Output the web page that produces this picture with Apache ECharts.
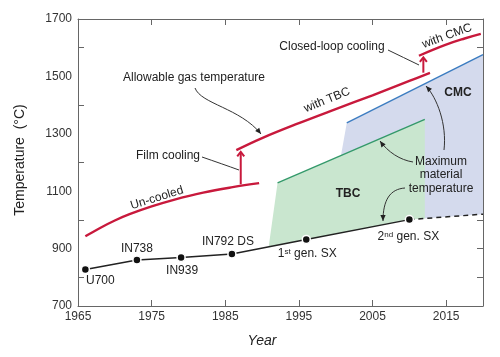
<!DOCTYPE html>
<html><head><meta charset="utf-8">
<script src="https://cdn.jsdelivr.net/npm/echarts@6/dist/echarts.min.js"></script>
<style>html,body{margin:0;padding:0;background:#fff}#c{width:500px;height:357px}</style>
</head><body><div id="c"></div>
<script>
// ---- axis ticks / labels ----
const xTickLabels = [1965, 1975, 1985, 1995, 2005, 2015];
const xTickMarks = [1975, 1985, 1995, 2005, 2015];
const yTickLabels = [700, 900, 1100, 1300, 1500, 1700];
const yTickMarksLeft = [800, 1000, 1200, 1400, 1600];

// ---- allowable gas temperature curves ----
const uncooledYear = [1966, 1968, 1970, 1972, 1975, 1978, 1982, 1986, 1989.6];
const uncooledTemp = [943, 972, 998, 1020, 1047, 1070, 1095, 1114, 1128];
const tbcGasYear = [1986.5, 1990, 1995, 2000, 2005, 2010, 2012.8];
const tbcGasTemp = [1243, 1285, 1337, 1386, 1434, 1484, 1512];
const cmcGasYear = [2011.3, 2014.8, 2017.5, 2019.7];
const cmcGasTemp = [1572, 1609, 1632, 1648];

// ---- cooling step arrows ----
const stepYear = [1987.1, 2011.9];
const stepFrom = [1124, 1513];
const stepTo = [1237, 1566];

// ---- material temperature ----
const alloyYear = [1966, 1973, 1979, 1985.9, 1996, 2010];
const alloyTemp = [827, 860, 869, 881, 932, 1001];
const alloyName = ['U700', 'IN738', 'IN939', 'IN792 DS', '1st gen. SX', '2nd gen. SX'];
const futureYear = [2010, 2020];
const futureTemp = [1001, 1020];

// ---- coating regions ----
const tbcRegionYear = [1990.9, 1992.1, 2012.1, 2012.1, 2010, 1996];
const tbcRegionTemp = [907, 1129, 1350, 1005, 1001, 932];
const tbcTopYear = [1992.1, 2012.1];
const tbcTopTemp = [1129, 1350];
const cmcRegionYear = [2000.2, 2001.5, 2020, 2020, 2010, 2000.2];
const cmcRegionTemp = [1150, 1338, 1576, 1020, 1001, 952];
const cmcTopYear = [2001.5, 2020];
const cmcTopTemp = [1338, 1576];

// label offsets (pixels) for alloy names
const alloyLabelOffset = [[15, 11], [0, -11], [1, 13], [-4, -12], [1, 14], [-1, 17]];

const FONT = 'Liberation Sans, Arial, sans-serif';
const RED = '#c8193c';
const zip = (a, b) => a.map((v, i) => [v, b[i]]);

function polygonSeries(xs, ys, fill, z) {
  return {
    type: 'custom', z: z, silent: true,
    data: [[xs[0], ys[0]]],
    renderItem: function (params, api) {
      return {
        type: 'polygon',
        shape: { points: xs.map((x, i) => api.coord([x, ys[i]])) },
        style: { fill: fill, stroke: null }
      };
    }
  };
}
function lineSeries(xs, ys, color, width, smooth, z, type) {
  return {
    type: 'line', data: zip(xs, ys), showSymbol: false, smooth: smooth, z: z, silent: true,
    lineStyle: { color: color, width: width, type: type || 'solid' }
  };
}

function arrowHead(x2, y2, fx, fy, color) {
  const a = Math.atan2(y2 - fy, x2 - fx), L = 6, W = 2.6;
  const bx = x2 - L * Math.cos(a), by = y2 - L * Math.sin(a);
  return {
    type: 'polygon', z: 100,
    shape: { points: [[x2, y2], [bx - W * Math.sin(a), by + W * Math.cos(a)], [bx + W * Math.sin(a), by - W * Math.cos(a)]] },
    style: { fill: color }
  };
}
function leader(p, arrow) {
  const els = [{
    type: 'bezierCurve', z: 100,
    shape: { x1: p[0], y1: p[1], cpx1: p[2], cpy1: p[3], cpx2: p[4], cpy2: p[5], x2: p[6], y2: p[7] },
    style: { stroke: '#333', lineWidth: 1, fill: null }
  }];
  if (arrow) els.push(arrowHead(p[6], p[7], p[4], p[5], '#222'));
  return els;
}
function txt(s, x, y, opt) {
  opt = opt || {};
  return {
    type: 'text', x: x, y: y, rotation: (opt.rot || 0) * Math.PI / 180, z: 100,
    style: {
      text: s, fill: opt.color || '#222', font: (opt.style || '') + ' ' + (opt.weight || 'normal') + ' ' + (opt.size || 12) + 'px ' + FONT,
      align: 'center', verticalAlign: 'middle', lineHeight: opt.lh || undefined
    }
  };
}

const chart = echarts.init(document.getElementById('c'), null, { renderer: 'canvas' });

const graphics = [].concat(
  leader([195, 88, 201, 104, 240, 108, 261, 134], true),
  leader([202, 157, 215, 161.5, 228, 166, 239, 170], false),
  leader([388, 50, 398, 55, 409, 60, 419, 65], false),
  leader([444, 150, 447, 124, 437, 98, 426, 86], true),
  leader([413, 162, 400, 160, 388, 152, 380, 141], true),
  leader([405, 188, 390, 189, 383, 200, 383, 221], true),
  [
    txt('Allowable gas temperature', 194, 78),
    txt('Film cooling', 168, 156),
    txt('Closed-loop cooling', 332, 47),
    txt('with CMC', 447, 36, { rot: 20 }),
    txt('with TBC', 327, 100, { rot: 22 }),
    txt('Un-cooled', 157, 198, { rot: 17 }),
    txt('CMC', 458, 93, { weight: 'bold' }),
    txt('TBC', 348, 194, { weight: 'bold' }),
    txt('Maximum\nmaterial\ntemperature', 441, 175, { lh: 13.5 }),
    txt('Year', 262, 341, { size: 14, style: 'italic' }),
    txt('Temperature  (\u00B0C)', 20, 160, { size: 14, rot: 90 })
  ]
);

const axisLineStyle = { color: '#666', width: 1 };
const plain = v => String(v);
const option = {
  animation: false,
  backgroundColor: '#fff',
  grid: { left: 78, right: 17, top: 19, bottom: 51, containLabel: false },
  xAxis: [{
    type: 'value', min: 1965, max: 2020, position: 'bottom',
    axisLine: { show: true, onZero: false, lineStyle: axisLineStyle },
    axisTick: { show: true, inside: true, length: 6, customValues: xTickMarks, lineStyle: axisLineStyle },
    axisLabel: { show: true, customValues: xTickLabels, formatter: plain, color: '#333', fontSize: 12, fontFamily: FONT, margin: 5 },
    splitLine: { show: false }
  }, {
    type: 'value', min: 1965, max: 2020, position: 'top',
    axisLine: { show: true, onZero: false, lineStyle: axisLineStyle },
    axisTick: { show: true, inside: true, length: 6, customValues: xTickMarks, lineStyle: axisLineStyle },
    axisLabel: { show: false }, splitLine: { show: false }
  }],
  yAxis: [{
    type: 'value', min: 700, max: 1700, interval: 100, position: 'left',
    axisLine: { show: true, onZero: false, lineStyle: axisLineStyle },
    axisTick: { show: true, inside: true, length: 6, customValues: yTickMarksLeft, lineStyle: axisLineStyle },
    axisLabel: { show: true, customValues: yTickLabels, formatter: plain, color: '#333', fontSize: 12, fontFamily: FONT, margin: 6 },
    splitLine: { show: false }
  }, {
    type: 'value', min: 700, max: 1700, interval: 100, position: 'right',
    axisLine: { show: true, onZero: false, lineStyle: axisLineStyle },
    axisTick: { show: true, inside: true, length: 6, lineStyle: axisLineStyle },
    axisLabel: { show: false }, splitLine: { show: false }
  }],
  graphic: graphics,
  series: [
    polygonSeries(cmcRegionYear, cmcRegionTemp, '#d4daed', 1),
    polygonSeries(tbcRegionYear, tbcRegionTemp, '#c9e6cf', 2),
    lineSeries(cmcTopYear, cmcTopTemp, '#3b7cc0', 1.4, false, 3),
    lineSeries(tbcTopYear, tbcTopTemp, '#33996a', 1.4, false, 3),
    lineSeries(uncooledYear, uncooledTemp, RED, 2.4, 0.4, 4),
    lineSeries(tbcGasYear, tbcGasTemp, RED, 2.4, 0.4, 4),
    lineSeries(cmcGasYear, cmcGasTemp, RED, 2.4, 0.4, 4),
    {
      type: 'custom', z: 5, silent: true,
      data: stepYear.map((y, i) => [y, stepFrom[i], stepTo[i]]),
      renderItem: function (params, api) {
        const p0 = api.coord([api.value(0), api.value(1)]);
        const p1 = api.coord([api.value(0), api.value(2)]);
        return {
          type: 'group', children: [
            { type: 'line', shape: { x1: p0[0], y1: p0[1], x2: p1[0], y2: p1[1] + 1 }, style: { stroke: RED, lineWidth: 2 } },
            { type: 'polyline', shape: { points: [[p1[0] - 3.5, p1[1] + 4.5], [p1[0], p1[1]], [p1[0] + 3.5, p1[1] + 4.5]] }, style: { stroke: RED, lineWidth: 2, fill: null } }
          ]
        };
      }
    },
    lineSeries(futureYear, futureTemp, '#222', 1.5, false, 6, [5, 4]),
    {
      type: 'line', z: 7, silent: true,
      data: alloyYear.map((y, i) => ({
        value: [y, alloyTemp[i]],
        label: { offset: alloyLabelOffset[i] }
      })),
      symbol: 'circle', symbolSize: 8, showSymbol: true,
      lineStyle: { color: '#222', width: 1.5 },
      itemStyle: { color: '#111', borderColor: '#fff', borderWidth: 1.5 },
      label: {
        show: true, position: 'inside', color: '#222', fontSize: 12, fontFamily: FONT,
        align: 'center', verticalAlign: 'middle',
        formatter: p => alloyName[p.dataIndex].replace(/^(\d)(st|nd|rd|th)/, '$1{sup|$2}'),
        rich: { sup: { fontSize: 8, verticalAlign: 'top', color: '#222', fontFamily: FONT } }
      }
    }
  ]
};
chart.setOption(option);
</script>
</body></html>
